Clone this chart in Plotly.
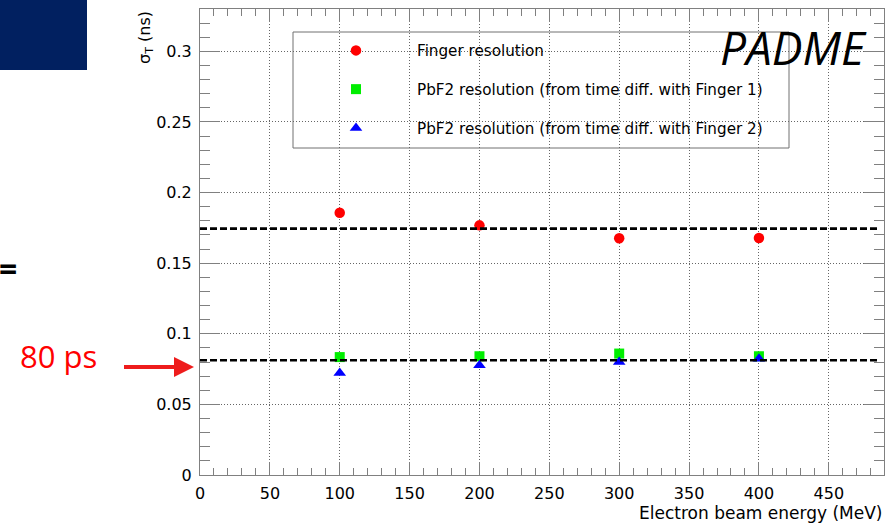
import plotly.graph_objects as go

# ---- data ----
energy = [100, 200, 300, 400]
finger_res = [0.1857, 0.1768, 0.1676, 0.1678]
pbf2_f1_res = [0.0835, 0.0841, 0.0860, 0.0841]
pbf2_f2_res = [0.0722, 0.0777, 0.0801, 0.0823]
reference_levels = [0.1745, 0.0813]
series_names = ["Finger resolution",
                "PbF2 resolution (from time diff. with Finger 1)",
                "PbF2 resolution (from time diff. with Finger 2)"]
x_ticks = [0, 50, 100, 150, 200, 250, 300, 350, 400, 450]
y_ticks = [0, 0.05, 0.1, 0.15, 0.2, 0.25, 0.3]

W, H = 895, 525
L, R, T, B = 200, 11, 9, 50
PW, PH = W - L - R, H - T - B


def px(X):
    return (X - L) / PW


def py(Y):
    return (H - B - Y) / PH


ROOT_FONT = "DejaVu Sans"
AXC = "#808080"

fig = go.Figure()
fig.add_trace(go.Scatter(x=energy, y=finger_res, mode="markers", name=series_names[0],
                         legendgroup="a",
                         marker=dict(symbol="circle", size=10.5, color="#ff0000")))
fig.add_trace(go.Scatter(x=energy, y=pbf2_f1_res, mode="markers", name=series_names[1],
                         legendgroup="b",
                         marker=dict(symbol="square", size=10, color="#00ee00")))
fig.add_trace(go.Scatter(x=energy, y=pbf2_f2_res, mode="markers", name=series_names[2],
                         legendgroup="c",
                         marker=dict(symbol="triangle-up", size=11, color="#0000ff")))

shapes = []
# legend box (white fill, hides grid)
shapes.append(dict(type="rect", xref="paper", yref="paper",
                   x0=px(293), x1=px(789), y0=py(32), y1=py(148),
                   line=dict(color="#707070", width=1), fillcolor="white", layer="below"))
for lv in reference_levels:
    shapes.append(dict(type="line", xref="x", yref="y", x0=0, x1=486, y0=lv, y1=lv,
                       line=dict(color="black", width=2.6, dash="7px,3px")))
# dark blue block top-left
shapes.append(dict(type="rect", xref="paper", yref="paper",
                   x0=px(-5), x1=px(87), y0=py(-5), y1=py(70),
                   line=dict(width=0), fillcolor="#012060"))

annotations = [
    dict(text="PADME", xref="paper", yref="paper", x=px(793), y=py(47),
         xanchor="center", yanchor="middle", showarrow=False,
         font=dict(family="Open Sans", size=46, color="black", style="italic")),
    dict(text="σ<sub>T</sub> (ns)", xref="paper", yref="paper", x=px(145), y=py(38),
         xanchor="center", yanchor="middle", textangle=-90, showarrow=False,
         font=dict(family=ROOT_FONT, size=16, color="black")),
    dict(text="Electron beam energy (MeV)", xref="paper", yref="paper", x=px(884), y=py(513),
         xanchor="right", yanchor="middle", showarrow=False,
         font=dict(family=ROOT_FONT, size=17, color="black")),
    dict(text="=", xref="paper", yref="paper", x=px(-3), y=py(268),
         xanchor="left", yanchor="middle", showarrow=False,
         font=dict(family="Open Sans", size=32, color="black", weight="bold")),
    dict(text="80 ps", xref="paper", yref="paper", x=px(18), y=py(356),
         xanchor="left", yanchor="middle", showarrow=False,
         font=dict(family="Open Sans", size=31, color="#ff0000")),
    dict(text=" ", xref="paper", yref="paper", x=px(194), y=py(367),
         ax=-72, ay=0, axref="pixel", ayref="pixel", showarrow=True,
         arrowhead=2, arrowsize=1.0, arrowwidth=4, arrowcolor="#ee1c1c",
         font=dict(size=2)),
]

axis_common = dict(
    showline=True, linecolor=AXC, linewidth=1, mirror="allticks",
    ticks="inside", tickcolor=AXC, tickwidth=1,
    showgrid=True, gridcolor="#666666", gridwidth=1, griddash="1px,2px",
    zeroline=False,
    tickfont=dict(family=ROOT_FONT, size=16, color="black"),
)

fig.update_xaxes(range=[0, 489.5], tickvals=x_ticks, ticktext=[str(v) for v in x_ticks],
                 ticklen=13, ticklabelstandoff=4,
                 minor=dict(dtick=10, tick0=0, ticks="inside", ticklen=7, tickcolor=AXC,
                            showgrid=False),
                 **axis_common)
fig.update_yaxes(range=[0, 0.33], tickvals=y_ticks,
                 ticktext=["0", "0.05", "0.1", "0.15", "0.2", "0.25", "0.3"],
                 ticklen=20, ticklabelstandoff=4,
                 minor=dict(dtick=0.01, tick0=0, ticks="inside", ticklen=10, tickcolor=AXC,
                            showgrid=False),
                 **axis_common)

fig.update_layout(
    width=W, height=H,
    margin=dict(l=L, r=R, t=T, b=B, pad=0),
    paper_bgcolor="white", plot_bgcolor="white",
    shapes=shapes, annotations=annotations,
    showlegend=True,
    legend=dict(x=px(295), y=py(34), xanchor="left", yanchor="top",
                bgcolor="rgba(0,0,0,0)", borderwidth=0,
                itemwidth=112, tracegroupgap=16,
                font=dict(family=ROOT_FONT, size=15.2, color="black")),
)

fig.write_html("out.html")
